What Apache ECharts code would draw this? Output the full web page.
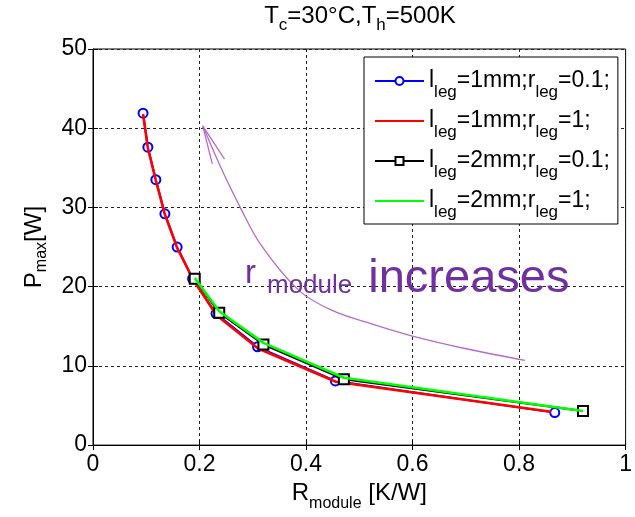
<!DOCTYPE html>
<html><head><meta charset="utf-8">
<script src="https://cdn.jsdelivr.net/npm/echarts@6/dist/echarts.min.js"></script>
<style>html,body{margin:0;padding:0;background:#fff}#c{width:635px;height:517px}</style>
</head><body><div id="c"></div>
<script>
const FONT = '"Liberation Sans", Arial, Helvetica, sans-serif';

// Series: l_leg=1mm; r_leg=0.1 (blue circles)
const s1x = [0.094, 0.103, 0.118, 0.135, 0.158, 0.187, 0.231, 0.309, 0.455, 0.867];
const s1y = [41.9, 37.6, 33.5, 29.2, 25.0, 21.0, 16.6, 12.4, 8.1, 4.1];
// Series: l_leg=1mm; r_leg=1 (red line)
const s2x = [0.094, 0.103, 0.118, 0.135, 0.158, 0.188, 0.232, 0.310, 0.456, 0.860];
const s2y = [41.8, 37.5, 33.4, 29.1, 24.9, 20.9, 16.4, 12.2, 8.0, 4.2];
// Series: l_leg=2mm; r_leg=0.1 (black squares)
const s3x = [0.191, 0.237, 0.320, 0.471, 0.920];
const s3y = [21.0, 16.7, 12.7, 8.3, 4.3];
// Series: l_leg=2mm; r_leg=1 (green line)
const s4x = [0.191, 0.237, 0.320, 0.471, 0.920];
const s4y = [21.1, 16.9, 12.9, 8.5, 4.3];

// Annotation arrow (data coordinates)
const arrowX = [0.206, 0.239, 0.275, 0.316, 0.387, 0.449, 0.523, 0.598, 0.705, 0.811];
const arrowY = [40.3, 35.2, 30.2, 25.2, 19.5, 17.0, 15.3, 13.8, 12.1, 10.7];
const headX = [0.224, 0.206, 0.247];
const headY = [35.5, 40.3, 36.1];

const names = ['l_leg=1mm;r_leg=0.1;', 'l_leg=1mm;r_leg=1;', 'l_leg=2mm;r_leg=0.1;', 'l_leg=2mm;r_leg=1;'];
const legendRich = [
  '{m|l}{s|leg}{m|=1mm;r}{s|leg}{m|=0.1;}',
  '{m|l}{s|leg}{m|=1mm;r}{s|leg}{m|=1;}',
  '{m|l}{s|leg}{m|=2mm;r}{s|leg}{m|=0.1;}',
  '{m|l}{s|leg}{m|=2mm;r}{s|leg}{m|=1;}'
];

const zip = (xs, ys) => xs.map((x, i) => [x, ys[i]]);

const chart = echarts.init(document.getElementById('c'), null, {renderer: 'canvas'});
const tickAxisCommon = {
  axisLine: {show: false},
  axisTick: {show: true, inside: true, length: 5, lineStyle: {color: '#000'}},
  axisLabel: {show: false},
  splitLine: {show: false}
};
const hiddenSym = {opacity: 0, color: 'rgba(0,0,0,0)', borderWidth: 0};
chart.setOption({
  animation: false,
  backgroundColor: '#fff',
  title: {
    text: '{m|T}{s|c}{m|=30°C,T}{s|h}{m|=500K}',
    left: 360, textAlign: 'center', top: -1, padding: 0,
    textStyle: {
      fontWeight: 'normal',
      rich: {
        m: {fontSize: 24, fontFamily: FONT, fontWeight: 'normal', color: '#000', verticalAlign: 'middle'},
        s: {fontSize: 17, fontFamily: FONT, fontWeight: 'normal', color: '#000', verticalAlign: 'middle', padding: [18, 0, 0, 0]}
      }
    }
  },
  grid: {left: 93, right: 7, top: 49, bottom: 62, show: true, borderColor: '#000', borderWidth: 1, containLabel: false},
  legend: {
    orient: 'vertical', left: 364, top: 57,
    data: [
      {name: names[0]},
      {name: names[1], itemStyle: hiddenSym},
      {name: names[2]},
      {name: names[3], itemStyle: hiddenSym}
    ],
    backgroundColor: '#fff', borderColor: '#000', borderWidth: 1,
    padding: [4, 8, 3, 10],
    itemWidth: 49, itemHeight: 10, itemGap: 0,
    selectedMode: false,
    formatter: n => legendRich[names.indexOf(n)],
    textStyle: {
      fontFamily: FONT, color: '#000', lineHeight: 40,
      rich: {
        m: {fontSize: 23, fontFamily: FONT, color: '#000', lineHeight: 40, verticalAlign: 'middle'},
        s: {fontSize: 17, fontFamily: FONT, color: '#000', lineHeight: 40, verticalAlign: 'bottom'}
      }
    }
  },
  xAxis: [{
    type: 'value', min: 0, max: 1, interval: 0.2, position: 'bottom',
    name: '{m|R}{s|module}{m| [K/W]}', nameLocation: 'middle', nameGap: 19,
    nameTextStyle: {
      rich: {
        m: {fontSize: 24, fontFamily: FONT, color: '#000', verticalAlign: 'middle'},
        s: {fontSize: 16, fontFamily: FONT, color: '#000', verticalAlign: 'middle', padding: [22, 0, 0, 0]}
      }
    },
    axisLine: {show: true, lineStyle: {color: '#000', width: 1}},
    axisTick: {show: true, inside: true, length: 5, lineStyle: {color: '#000'}},
    axisLabel: {fontSize: 23, fontFamily: FONT, color: '#000', margin: 8},
    splitLine: {show: true, lineStyle: {color: '#222', type: [3, 3], width: 1}}
  }, Object.assign({type: 'value', min: 0, max: 1, interval: 0.2, position: 'top'}, tickAxisCommon)],
  yAxis: [{
    type: 'value', min: 0, max: 50, interval: 10, position: 'left',
    name: '{m|P}{s|max}{m|[W]}', nameLocation: 'middle', nameGap: 43, nameRotate: 90,
    nameTextStyle: {
      rich: {
        m: {fontSize: 24, fontFamily: FONT, color: '#000', verticalAlign: 'middle'},
        s: {fontSize: 16, fontFamily: FONT, color: '#000', verticalAlign: 'middle', padding: [16, 0, 0, 0]}
      }
    },
    axisLine: {show: true, lineStyle: {color: '#000', width: 1}},
    axisTick: {show: true, inside: true, length: 5, lineStyle: {color: '#000'}},
    axisLabel: {fontSize: 23, fontFamily: FONT, color: '#000', margin: 6},
    splitLine: {show: true, lineStyle: {color: '#222', type: [3, 3], width: 1}}
  }, Object.assign({type: 'value', min: 0, max: 50, interval: 10, position: 'right'}, tickAxisCommon)],
  series: [
    {
      name: names[0], type: 'line', z: 2, data: zip(s1x, s1y),
      symbol: 'emptyCircle', symbolSize: 9,
      lineStyle: {color: '#0000FF', width: 2},
      itemStyle: {color: '#0000FF', borderWidth: 1.8}
    },
    {
      name: names[1], type: 'line', z: 3, data: zip(s2x, s2y),
      symbol: 'none', lineStyle: {color: '#FF0000', width: 2.6}, itemStyle: {color: '#FF0000'}
    },
    {
      name: names[2], type: 'line', z: 4, data: zip(s3x, s3y),
      symbol: 'emptyRect', symbolSize: 10,
      lineStyle: {color: '#000000', width: 2},
      itemStyle: {color: '#000000', borderWidth: 1.8}
    },
    {
      name: names[3], type: 'line', z: 5, data: zip(s4x, s4y),
      symbol: 'none', lineStyle: {color: '#00FF00', width: 2.6}, itemStyle: {color: '#00FF00'}
    },
    {
      name: 'arrow', type: 'line', z: 1, silent: true, data: zip(arrowX, arrowY),
      symbol: 'none', smooth: 0.35, lineStyle: {color: '#B46CC8', width: 1.3}
    },
    {
      name: 'arrowhead', type: 'line', z: 1, silent: true, data: zip(headX, headY),
      symbol: 'none', lineStyle: {color: '#B46CC8', width: 1.3}
    }
  ],
  graphic: [{
    type: 'text', left: 245, top: 256, z: 10,
    style: {
      text: '{r|r}{m|module}{i|increases}',
      fill: '#7030A0',
      rich: {
        r: {fontSize: 33, fontFamily: FONT, fill: '#7030A0', verticalAlign: 'top', padding: [1, 0, 0, 0]},
        m: {fontSize: 26, fontFamily: FONT, fill: '#7030A0', verticalAlign: 'top', padding: [17, 0, 0, 11]},
        i: {fontSize: 47, fontFamily: FONT, fill: '#7030A0', verticalAlign: 'top', padding: [0, 0, 0, 16]}
      }
    }
  }]
});
</script>
</body></html>
